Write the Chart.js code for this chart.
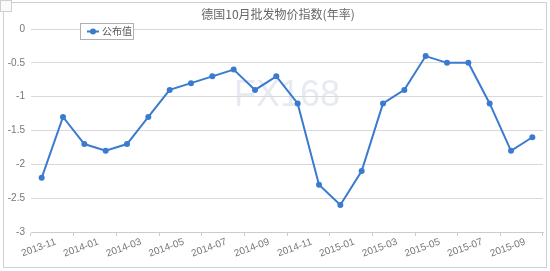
<!DOCTYPE html>
<html>
<head>
<meta charset="utf-8">
<script src="https://cdn.jsdelivr.net/npm/chart.js@4/dist/chart.umd.min.js"></script>
<style>
  body { margin: 0; background: #fff; }
  #wrap { width: 550px; height: 271px; position: relative; }
</style>
</head>
<body>
<div id="wrap"><canvas id="LineChartPPI"></canvas></div>
<script>
//------------------------------ DATA ----------------------------------
const months = ['2013-11', '2013-12', '2014-01', '2014-02', '2014-03', '2014-04', '2014-05', '2014-06',
                '2014-07', '2014-08', '2014-09', '2014-10', '2014-11', '2014-12', '2015-01', '2015-02',
                '2015-03', '2015-04', '2015-05', '2015-06', '2015-07', '2015-08', '2015-09', '2015-10'];
const actualValues = [-2.2, -1.3, -1.7, -1.8, -1.7, -1.3, -0.9, -0.8, -0.7, -0.6, -0.9, -0.7,
                      -1.1, -2.3, -2.6, -2.1, -1.1, -0.9, -0.4, -0.5, -0.5, -1.1, -1.8, -1.6];
const yTicks = [0, -0.5, -1, -1.5, -2, -2.5, -3];

const chartTitle = '德国10月批发物价指数(年率)';
const seriesName = '公布值';
const watermark = 'FX168';
const lineColor = '#3a7bd0';

//------------------------------ PLUGIN: frame, title, legend, watermark ----------------------------------
const decorPlugin = {
    id: 'decor',
    beforeDraw(chart) {
        const ctx = chart.ctx;
        ctx.save();
        // bingkai luar
        ctx.strokeStyle = '#d0d0d0';
        ctx.lineWidth = 1;
        ctx.strokeRect(3.5, 2.5, 543, 265);
        // kotak kecil di pojok kiri atas
        ctx.fillStyle = '#fafafa';
        ctx.fillRect(0, 0, 12, 12);
        ctx.strokeStyle = '#cfcfcf';
        ctx.strokeRect(0.5, 0.5, 11, 11);
        // judul
        ctx.fillStyle = '#666';
        ctx.font = '12px "Noto Sans CJK SC", sans-serif';
        ctx.textAlign = 'center';
        ctx.textBaseline = 'middle';
        ctx.fillText(chartTitle, 278, 14);
        ctx.restore();
    },
    beforeDatasetsDraw(chart) {
        const ctx = chart.ctx;
        ctx.save();
        ctx.fillStyle = 'rgba(215, 222, 232, 0.6)';
        ctx.font = '36px "Liberation Sans", sans-serif';
        ctx.textAlign = 'center';
        ctx.textBaseline = 'middle';
        ctx.fillText(watermark, 287, 96);
        ctx.restore();
    },
    afterDraw(chart) {
        const ctx = chart.ctx;
        ctx.save();
        // legend box
        ctx.fillStyle = '#fff';
        ctx.fillRect(81, 23, 53, 16);
        ctx.strokeStyle = '#b0b0b0';
        ctx.lineWidth = 1;
        ctx.strokeRect(80.5, 23.5, 53, 16);
        ctx.strokeStyle = lineColor;
        ctx.lineWidth = 2;
        ctx.beginPath();
        ctx.moveTo(87, 31.5);
        ctx.lineTo(99, 31.5);
        ctx.stroke();
        ctx.fillStyle = lineColor;
        ctx.beginPath();
        ctx.arc(93, 31.5, 3, 0, Math.PI * 2);
        ctx.fill();
        ctx.fillStyle = '#555';
        ctx.font = '10px "Noto Sans CJK SC", sans-serif';
        ctx.textAlign = 'left';
        ctx.textBaseline = 'middle';
        ctx.fillText(seriesName, 102, 31.5);
        ctx.restore();
    }
};

//------------------------------ LINE CHART ----------------------------------
const ctxPPI = document.getElementById('LineChartPPI').getContext('2d');
new Chart(ctxPPI, {
    type: 'line',
    data: {
        labels: months,
        datasets: [{
            label: seriesName,
            data: actualValues,
            borderColor: lineColor,
            backgroundColor: lineColor,
            borderWidth: 2,
            pointRadius: 3,
            pointBorderWidth: 0,
            pointBackgroundColor: lineColor,
            tension: 0,
            fill: false
        }]
    },
    options: {
        responsive: true,
        maintainAspectRatio: false,
        animation: false,
        layout: { padding: { top: 29, right: 7, left: 0, bottom: 0 } },
        plugins: {
            legend: { display: false },
            title: { display: false },
            tooltip: { enabled: false }
        },
        scales: {
            x: {
                offset: true,
                afterFit: s => { s.height = 39; },
                grid: {
                    offset: true,
                    drawOnChartArea: false,
                    drawTicks: true,
                    tickLength: 4,
                    color: c => (c.index === undefined || c.index % 2 === 0) ? '#cccccc' : 'rgba(0,0,0,0)'
                },
                border: { display: true, color: '#cccccc' },
                ticks: {
                    autoSkip: false,
                    maxRotation: 20,
                    minRotation: 20,
                    labelOffset: 14,
                    padding: 0,
                    color: '#777',
                    font: { size: 10, family: '"Liberation Sans", Arial, sans-serif' },
                    callback: (value, index) => index % 2 === 0 ? months[index] : ''
                }
            },
            y: {
                min: -3,
                max: 0,
                afterFit: s => { s.width = 31; },
                afterBuildTicks: s => { s.ticks = yTicks.map(v => ({ value: v })); },
                grid: { color: '#d9d9d9', drawTicks: false },
                border: { display: false },
                ticks: {
                    padding: 6,
                    color: '#777',
                    font: { size: 10, family: '"Liberation Sans", Arial, sans-serif' },
                    callback: v => String(v)
                }
            }
        }
    },
    plugins: [decorPlugin]
});
</script>
</body>
</html>
